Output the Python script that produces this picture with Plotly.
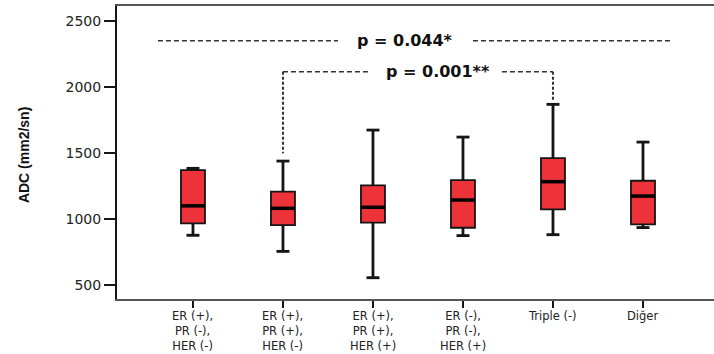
import plotly.graph_objects as go

# ---- data ----
line1 = ["ER (+),", "ER (+),", "ER (+),", "ER (-),", "Triple (-)", "Diğer"]
line2 = ["PR (-),", "PR (+),", "PR (+),", "PR (-),", "", ""]
line3 = ["HER (-)", "HER (-)", "HER (+)", "HER (+)", "", ""]
lower = [877, 755, 555, 874, 881, 935]
q1 = [967, 953, 972, 934, 1073, 960]
median = [1100, 1081, 1089, 1144, 1283, 1174]
q3 = [1371, 1207, 1255, 1295, 1462, 1290]
upper = [1384, 1439, 1674, 1621, 1869, 1583]
y_ticks = [500, 1000, 1500, 2000, 2500]

# comparison annotations (data units)
p_overall = "p = 0.044*"
p_overall_y = 2351
p_overall_span = [(-0.389, 1.611), (3.111, 5.311)]
p_overall_text_x = 2.356
p_pair = "p = 0.001**"
p_pair_groups = (1, 4)
p_pair_y = 2116
p_pair_bottoms = (1498, 1894)
p_pair_span = [(1.0, 1.944), (3.433, 4.0)]
p_pair_text_x = 2.717

# ---- style ----
BOX_W = 0.267
CAP_HALF = 0.072
RED = "#EE3239"
DARK = "#151515"
TICKFONT = dict(family="DejaVu Sans", size=11.5, color="#222222")

xs = list(range(len(line1)))
fig = go.Figure()

fig.add_trace(go.Box(
    x=xs, q1=q1, median=median, q3=q3, lowerfence=lower, upperfence=upper,
    width=BOX_W, whiskerwidth=0.5, fillcolor=RED,
    line=dict(color=DARK, width=1.8), boxpoints=False,
    hoverinfo="skip", showlegend=False,
))

# thicker whiskers and caps
wx, wy = [], []
for i in xs:
    wx += [i, i, None, i, i, None,
           i - CAP_HALF, i + CAP_HALF, None, i - CAP_HALF, i + CAP_HALF, None]
    wy += [q3[i], upper[i], None, q1[i], lower[i], None,
           upper[i], upper[i], None, lower[i], lower[i], None]
fig.add_trace(go.Scatter(x=wx, y=wy, mode="lines", line=dict(color=DARK, width=2.8),
                         hoverinfo="skip", showlegend=False))

# thick medians
mx, my = [], []
for i in xs:
    mx += [i - BOX_W / 2, i + BOX_W / 2, None]
    my += [median[i], median[i], None]
fig.add_trace(go.Scatter(x=mx, y=my, mode="lines", line=dict(color="#000000", width=3.5),
                         hoverinfo="skip", showlegend=False))

# dashed comparison lines
for a, b in p_overall_span:
    fig.add_shape(type="line", x0=a, x1=b, y0=p_overall_y, y1=p_overall_y,
                  line=dict(color="#333333", width=1.4, dash="5px,3px"))
for a, b in p_pair_span:
    fig.add_shape(type="line", x0=a, x1=b, y0=p_pair_y, y1=p_pair_y,
                  line=dict(color="#333333", width=1.4, dash="5px,3px"))
for g, yb in zip(p_pair_groups, p_pair_bottoms):
    fig.add_shape(type="line", x0=g, x1=g, y0=p_pair_y, y1=yb,
                  line=dict(color="#333333", width=2, dash="3px,2px"))

PFONT = dict(family="DejaVu Sans", size=16, color="#111111", weight="bold")
fig.add_annotation(x=p_overall_text_x, y=p_overall_y, text=p_overall, showarrow=False,
                   font=PFONT, xanchor="center", yanchor="middle")
fig.add_annotation(x=p_pair_text_x, y=p_pair_y, text=p_pair, showarrow=False,
                   font=PFONT, xanchor="center", yanchor="middle")

# category labels (one multi-line text per category)
for i in xs:
    parts = [t for t in (line1[i], line2[i], line3[i]) if t]
    fig.add_annotation(x=i, xref="x", y=-0.030, yref="paper", text="<br>".join(parts),
                       showarrow=False, font=TICKFONT, xanchor="center", yanchor="top",
                       align="center", borderpad=0)

# y-axis title
fig.add_annotation(x=-0.1558, xref="paper", y=0.491, yref="paper", text="ADC (mm2/sn)",
                   textangle=-90, showarrow=False, xanchor="center", yanchor="middle",
                   font=dict(family="Liberation Sans", size=14, color="#111111", weight="bold"))

fig.update_layout(
    width=714, height=354,
    margin=dict(l=117, r=0, t=6, b=55),
    paper_bgcolor="white", plot_bgcolor="white",
    showlegend=False,
)
fig.update_xaxes(range=[-0.844, 5.789], tickmode="array", tickvals=xs, showticklabels=False,
                 ticks="outside", ticklen=7, tickwidth=2, tickcolor=DARK,
                 showline=True, linecolor="#555555", linewidth=2, mirror=True,
                 showgrid=False, zeroline=False)
fig.update_yaxes(range=[394, 2614], tickmode="array", tickvals=y_ticks,
                 ticktext=[str(v) for v in y_ticks],
                 tickfont=dict(family="DejaVu Sans", size=14, color="#222222"),
                 ticks="outside", ticklen=11, tickwidth=2, tickcolor=DARK,
                 showline=True, linecolor=DARK, linewidth=2,
                 showgrid=False, zeroline=False)

fig.write_html("out.html", config={"displayModeBar": False, "staticPlot": True},
               post_script="document.body.style.margin='0px';document.body.style.overflow='hidden';")
